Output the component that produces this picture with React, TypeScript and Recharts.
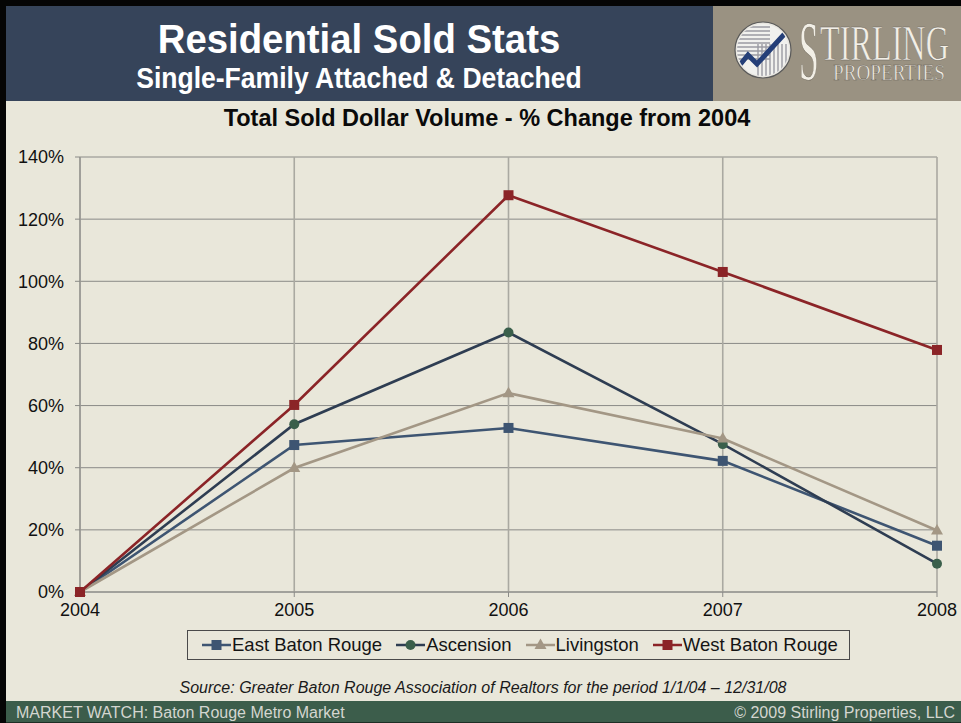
import React from 'react';
import { LineChart, Line, XAxis, YAxis, CartesianGrid, Legend } from 'recharts';

const years = ['2004', '2005', '2006', '2007', '2008'];
const eastBatonRouge = [0, 47.3, 52.8, 42.2, 14.9];
const ascension = [0, 54.0, 83.5, 47.6, 9.1];
const livingston = [0, 39.9, 64.0, 49.4, 19.8];
const westBatonRouge = [0, 60.2, 127.7, 103.0, 77.9];
const yTicks = [0, 20, 40, 60, 80, 100, 120, 140];
const seriesNames = ['East Baton Rouge', 'Ascension', 'Livingston', 'West Baton Rouge'];

const data = years.map((y, i) => ({
  year: y,
  ebr: eastBatonRouge[i],
  asc: ascension[i],
  liv: livingston[i],
  wbr: westBatonRouge[i],
}));

const FONT = '"Liberation Sans", Arial, Helvetica, sans-serif';

const series = [
  { key: 'ebr', name: seriesNames[0], line: '#3E5572', marker: '#3E5572', shape: 'square' },
  { key: 'asc', name: seriesNames[1], line: '#2E3D52', marker: '#3A5F4B', shape: 'circle' },
  { key: 'liv', name: seriesNames[2], line: '#A39785', marker: '#A39785', shape: 'triangle' },
  { key: 'wbr', name: seriesNames[3], line: '#8B2427', marker: '#8B2427', shape: 'square' },
];

function markerShape(shape: string, cx: number, cy: number, fill: string, key?: any) {
  if (shape === 'square') return <rect key={key} x={cx - 5} y={cy - 5} width={10} height={10} fill={fill} />;
  if (shape === 'circle') return <circle key={key} cx={cx} cy={cy} r={5} fill={fill} />;
  return <polygon key={key} points={`${cx},${cy - 6.5} ${cx + 6},${cy + 4} ${cx - 6},${cy + 4}`} fill={fill} />;
}

const renderLegend = () => (
  <div
    style={{
      width: 663,
      height: 30,
      boxSizing: 'border-box',
      border: '1.5px solid #4a4a4a',
      display: 'flex',
      alignItems: 'center',
      paddingLeft: 14,
      fontFamily: FONT,
      fontSize: 18.5,
      color: '#141414',
      whiteSpace: 'nowrap',
    }}
  >
    {series.map((s, i) => (
      <div key={s.key} style={{ display: 'flex', alignItems: 'center', marginRight: i < 3 ? 14 : 0 }}>
        <svg width={29} height={14} style={{ display: 'block' }}>
          <line x1={0} y1={7} x2={29} y2={7} stroke={s.line} strokeWidth={2.5} />
          {markerShape(s.shape, 14.5, 7, s.marker)}
        </svg>
        <span style={{ marginLeft: 1 }}>{s.name}</span>
      </div>
    ))}
  </div>
);

const Logo = () => (
  <g>
    <rect x={713} y={6} width={248} height={95} fill="#9A9282" />
    <defs>
      <clipPath id="logoClip">
        <circle cx={763} cy={50} r={26} />
      </clipPath>
    </defs>
    <circle cx={763} cy={50} r={28} fill="#E8E6E0" stroke="#5a5a5a" strokeWidth={1.2} />
    <g clipPath="url(#logoClip)">
      <rect x={736} y={23} width={54} height={54} fill="#F1F1EE" />
      {[0, 1, 2, 3, 4, 5, 6, 7, 8].map((k) => (
        <line key={'h' + k} x1={736} y1={27 + k * 4} x2={770} y2={27 + k * 4} stroke="#9a9aa2" strokeWidth={1.4} />
      ))}
      {[0, 1, 2, 3, 4, 5, 6, 7].map((k) => (
        <line key={'v' + k} x1={758 + k * 4} y1={44} x2={758 + k * 4} y2={80} stroke="#9a9aa2" strokeWidth={1.4} />
      ))}
      <polyline points="734,72 748,55 757,64 790,28" fill="none" stroke="#253F78" strokeWidth={5} />
    </g>
    <g fill="#F2EFE6" stroke="#6b6458" strokeWidth={0.5} fontFamily='"Liberation Serif", "DejaVu Serif", serif'>
      <text x={799} y={80} fontSize={84} transform="translate(799,0) scale(0.42,1) translate(-799,0)">S</text>
      <text x={820} y={60} fontSize={50} transform="translate(820,0) scale(0.645,1) translate(-820,0)">TIRLING</text>
      <text x={833} y={80} fontSize={24} transform="translate(833,0) scale(0.8,1) translate(-833,0)">PROPERTIES</text>
    </g>
  </g>
);

export default function App() {
  return (
    <div
      style={{
        position: 'absolute',
        left: 0,
        top: 0,
        width: 961,
        height: 723,
        background: '#E9E7DA',
        overflow: 'hidden',
      }}
    >
      <div style={{ position: 'absolute', left: 0, top: 0 }}>
        <LineChart
          width={961}
          height={723}
          data={data}
          margin={{ top: 157, right: 24, bottom: 101, left: 10 }}
        >
          <CartesianGrid horizontal={true} vertical={false} stroke="#8A8A87" strokeWidth={1} />
          <CartesianGrid horizontal={false} vertical={true} stroke="#AAA9A1" strokeWidth={1.6} />
          <XAxis
            dataKey="year"
            axisLine={{ stroke: '#8A8A87', strokeWidth: 1 }}
            tickLine={{ stroke: '#8A8A87' }}
            tickSize={5}
            tickMargin={6}
            height={30}
            padding={{ left: 0, right: 0 }}
            tick={{ fill: '#111', fontSize: 18, fontFamily: FONT }}
            interval={0}
          />
          <YAxis
            width={70}
            domain={[0, 140]}
            ticks={yTicks}
            tickFormatter={(v: number) => `${v}%`}
            axisLine={{ stroke: '#8A8A87', strokeWidth: 1 }}
            tickLine={{ stroke: '#8A8A87' }}
            tickSize={5}
            tickMargin={11}
            tick={{ fill: '#111', fontSize: 18, fontFamily: FONT }}
            interval={0}
          />
          <Legend
            layout="horizontal"
            verticalAlign="middle"
            align="center"
            content={renderLegend}
            wrapperStyle={{ left: 187, top: 630, width: 663, height: 30 }}
          />
          {series.map((s) => (
            <Line
              key={s.key}
              type="linear"
              dataKey={s.key}
              name={s.name}
              stroke={s.line}
              strokeWidth={2.6}
              isAnimationActive={false}
              activeDot={false}
              dot={(p: any) => markerShape(s.shape, p.cx, p.cy, s.marker, `${s.key}-${p.index}`)}
            />
          ))}
        </LineChart>
      </div>
      <svg
        width={961}
        height={723}
        style={{ position: 'absolute', left: 0, top: 0, pointerEvents: 'none' }}
      >
        <rect x={0} y={0} width={961} height={6} fill="#050505" />
        <rect x={6} y={6} width={707} height={95} fill="#36445A" />
        <Logo />
        <text
          x={359}
          y={53}
          textAnchor="middle"
          fontFamily={FONT}
          fontWeight="bold"
          fontSize={41}
          fill="#FFFFFF"
          transform="translate(359,0) scale(0.935,1) translate(-359,0)"
        >
          Residential Sold Stats
        </text>
        <text
          x={359}
          y={88}
          textAnchor="middle"
          fontFamily={FONT}
          fontWeight="bold"
          fontSize={29}
          fill="#FFFFFF"
          transform="translate(359,0) scale(0.915,1) translate(-359,0)"
        >
          Single-Family Attached &amp; Detached
        </text>
        <text
          x={487}
          y={126}
          textAnchor="middle"
          fontFamily={FONT}
          fontWeight="bold"
          fontSize={23.5}
          fill="#0a0a0a"
        >
          Total Sold Dollar Volume - % Change from 2004
        </text>
        <text
          x={483}
          y={693}
          textAnchor="middle"
          fontFamily={FONT}
          fontStyle="italic"
          fontSize={16}
          fill="#1a1a1a"
        >
          Source: Greater Baton Rouge Association of Realtors for the period 1/1/04 – 12/31/08
        </text>
        <rect x={0} y={701} width={961} height={22} fill="#3C5D4B" />
        <rect x={0} y={722} width={961} height={1} fill="#1e2e25" />
        <text x={16} y={718} fontFamily={FONT} fontSize={16} fill="#D4D6D0">
          MARKET WATCH: Baton Rouge Metro Market
        </text>
        <text x={955} y={718} textAnchor="end" fontFamily={FONT} fontSize={16} fill="#D4D6D0">
          © 2009 Stirling Properties, LLC
        </text>
        <rect x={0} y={0} width={6} height={723} fill="#050505" />
      </svg>
    </div>
  );
}
